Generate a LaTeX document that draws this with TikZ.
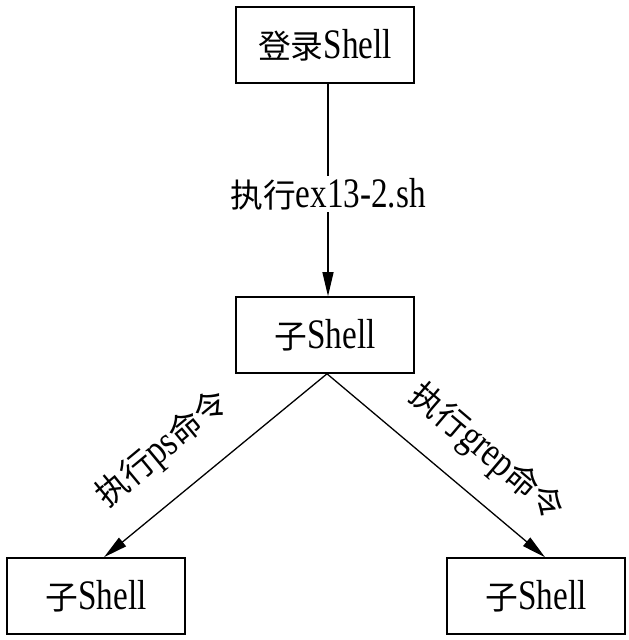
\documentclass[tikz,border=0pt]{standalone}
\usepackage{fontspec}
\setmainfont{Liberation Serif}[FakeStretch=0.79]
\newfontfamily\cjk{Noto Sans CJK SC}[Scale=0.78]
\usetikzlibrary{arrows.meta}
\begin{document}
\begin{tikzpicture}[x=1pt,y=1pt,
  box/.style={draw,line width=1.6pt,minimum width=178pt,minimum height=76pt,inner sep=0pt,font=\fontsize{42}{48}\selectfont},
  lbl/.style={font=\fontsize{42}{48}\selectfont,inner sep=2pt},
  arr/.style={line width=1.3pt,-{Triangle[length=24pt,width=11pt]}}]
\useasboundingbox (0,0) rectangle (629,640);
\node[box] (top) at (325,595) {{\cjk 登录}Shell};
\node[box] (mid) at (325,305) {{\cjk 子}Shell};
\node[box] (left) at (96,44) {{\cjk 子}Shell};
\node[box] (right) at (536,44) {{\cjk 子}Shell};
\draw[arr] ([xshift=3pt]top.south) -- ([xshift=3pt]mid.north)
  node[pos=0.52,fill=white,lbl] (l1) {{\cjk 执行}ex13-2.sh};
\draw[arr] ([xshift=2pt]mid.south) -- ([xshift=8pt]left.north);
\draw[arr] ([xshift=2pt]mid.south) -- ([xshift=9pt]right.north);
\node[lbl,rotate=39.7] (l2) at (163,190) {{\cjk 执行}ps{\cjk 命令}};
\node[lbl,rotate=-40.3] (l3) at (486,187) {{\cjk 执行}grep{\cjk 命令}};
\end{tikzpicture}
\end{document}
